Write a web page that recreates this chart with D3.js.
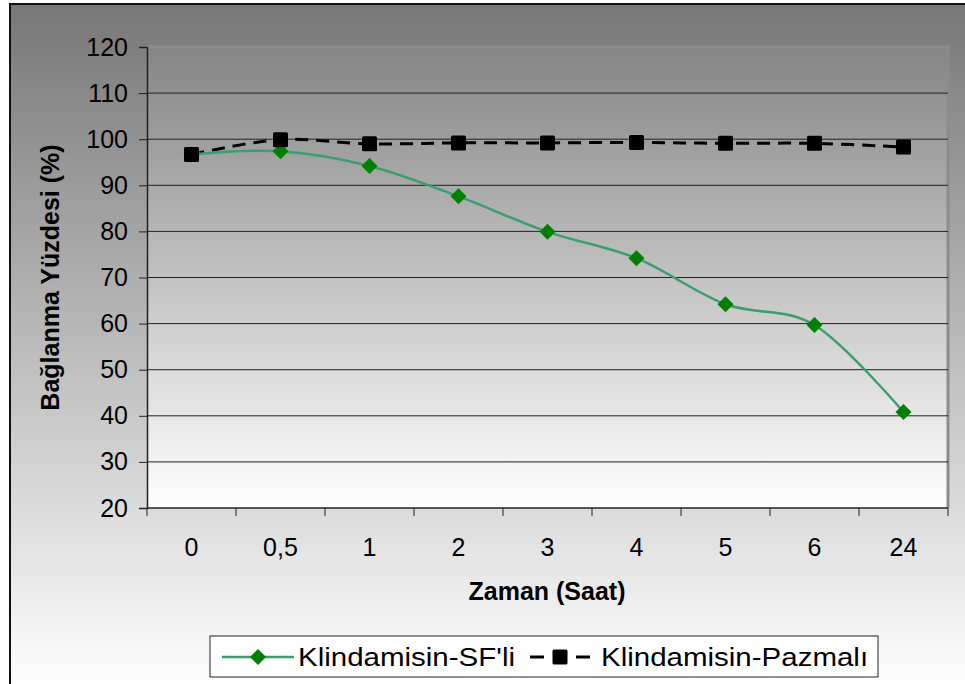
<!DOCTYPE html>
<html>
<head>
<meta charset="utf-8">
<script src="https://cdn.jsdelivr.net/npm/d3@7"></script>
<style>
  body { margin: 0; background: #fff; }
  text { font-family: "Liberation Sans", Arial, sans-serif; }
</style>
</head>
<body>
<div id="chart"></div>
<script>
// data
const categories = ['0', '0,5', '1', '2', '3', '4', '5', '6', '24'];
const sfValues = [96.7, 97.4, 94.2, 87.6, 79.9, 74.2, 64.2, 59.7, 40.8];
const pazValues = [96.7, 99.9, 99.0, 99.2, 99.2, 99.3, 99.1, 99.1, 98.3];
const yTicks = [20, 30, 40, 50, 60, 70, 80, 90, 100, 110, 120];
const seriesNames = ["Klindamisin-SF'li", 'Klindamisin-Pazmalı'];

const W = 965, H = 684;
const margin = {top: 47, right: 17, bottom: 176, left: 147};
const width = W - margin.left - margin.right;
const height = H - margin.top - margin.bottom;
const fontSize = 25;

const svg = d3.select('#chart').append('svg')
  .attr('width', W)
  .attr('height', H);

const defs = svg.append('defs');
const outerGrad = defs.append('linearGradient')
  .attr('id', 'outerGrad').attr('x1', 0).attr('y1', 0).attr('x2', 0).attr('y2', 1);
outerGrad.append('stop').attr('offset', '0%').attr('stop-color', '#777777');
outerGrad.append('stop').attr('offset', '100%').attr('stop-color', '#ffffff');

const plotGrad = defs.append('linearGradient')
  .attr('id', 'plotGrad').attr('x1', 0).attr('y1', 0).attr('x2', 0).attr('y2', 1);
plotGrad.append('stop').attr('offset', '0%').attr('stop-color', '#858585');
plotGrad.append('stop').attr('offset', '100%').attr('stop-color', '#ffffff');

// chart area + frame
svg.append('rect')
  .attr('x', 10).attr('y', 4).attr('width', W).attr('height', H)
  .attr('fill', 'url(#outerGrad)')
  .attr('stroke', '#111').attr('stroke-width', 2);

const g = svg.append('g').attr('transform', `translate(${margin.left},${margin.top})`);

g.append('rect')
  .attr('width', width).attr('height', height)
  .attr('fill', 'url(#plotGrad)');

// plot border, light on top and right
g.append('path')
  .attr('d', `M0,0H${width}V${height}`)
  .attr('fill', 'none')
  .attr('stroke', '#8c8c8c')
  .attr('stroke-width', 3);

const x = d3.scaleBand().domain(categories).range([0, width]);
const y = d3.scaleLinear().domain([20, 120]).range([height, 0]);
const cx = d => x(d) + x.bandwidth() / 2;

// grid lines
g.append('g')
  .selectAll('line')
  .data(yTicks.slice(1, -1))
  .join('line')
  .attr('x1', 0).attr('x2', width)
  .attr('y1', d => y(d)).attr('y2', d => y(d))
  .attr('stroke', '#222').attr('stroke-width', 1);

// y axis
const yAxis = g.append('g')
  .call(d3.axisLeft(y).tickValues(yTicks).tickSize(8).tickPadding(11));
yAxis.select('.domain').attr('stroke', '#222').attr('stroke-width', 1.5);
yAxis.selectAll('.tick line').attr('stroke', '#222');
yAxis.selectAll('text').attr('font-size', fontSize).attr('fill', '#000')
  .attr('font-family', '"Liberation Sans", Arial, sans-serif');

// x axis: ticks at category boundaries, labels centered
const xAxis = g.append('g').attr('transform', `translate(0,${height})`);
xAxis.append('line')
  .attr('x1', 0).attr('x2', width)
  .attr('stroke', '#222').attr('stroke-width', 1.5);
xAxis.selectAll('.xt')
  .data(categories.concat(['end']))
  .join('line')
  .attr('class', 'xt')
  .attr('x1', (d, i) => i * x.bandwidth()).attr('x2', (d, i) => i * x.bandwidth())
  .attr('y1', 0).attr('y2', 8)
  .attr('stroke', '#222');
xAxis.selectAll('.xl')
  .data(categories)
  .join('text')
  .attr('class', 'xl')
  .attr('x', d => cx(d))
  .attr('y', 48)
  .attr('text-anchor', 'middle')
  .attr('font-size', fontSize)
  .text(d => d);

// axis titles
svg.append('text')
  .attr('x', 547)
  .attr('y', 600)
  .attr('text-anchor', 'middle')
  .attr('font-size', fontSize).attr('font-weight', 'bold')
  .text('Zaman (Saat)');

svg.append('text')
  .attr('transform', `translate(59,${margin.top + height / 2}) rotate(-90)`)
  .attr('text-anchor', 'middle')
  .attr('font-size', fontSize).attr('font-weight', 'bold')
  .text('Bağlanma Yüzdesi (%)');

const line = d3.line()
  .x((d, i) => cx(categories[i]))
  .y(d => y(d))
  .curve(d3.curveCardinal.tension(0));

// Pazmalı series (dashed black, squares)
g.append('path')
  .datum(pazValues)
  .attr('d', line)
  .attr('fill', 'none')
  .attr('stroke', '#000')
  .attr('stroke-width', 3)
  .attr('stroke-dasharray', '13,8');

// SF'li series (green, diamonds)
g.append('path')
  .datum(sfValues)
  .attr('d', line)
  .attr('fill', 'none')
  .attr('stroke', '#3a9e70')
  .attr('stroke-width', 2.5);

const diamond = d3.symbol().type(d3.symbolSquare).size(128);
g.selectAll('.dia')
  .data(sfValues)
  .join('path')
  .attr('class', 'dia')
  .attr('d', diamond)
  .attr('transform', (d, i) => `translate(${cx(categories[i])},${y(d)}) rotate(45)`)
  .attr('fill', '#008000');

g.selectAll('.sq')
  .data(pazValues)
  .join('rect')
  .attr('class', 'sq')
  .attr('x', (d, i) => cx(categories[i]) - 7.5)
  .attr('y', d => y(d) - 7.5)
  .attr('width', 15).attr('height', 15)
  .attr('rx', 1.5)
  .attr('fill', '#000');

// legend (text in the reference is a bit wider than Liberation Sans)
const legend = svg.append('g').attr('transform', 'translate(210,636)');
legend.append('rect')
  .attr('width', 668).attr('height', 41)
  .attr('fill', '#fff').attr('stroke', '#222').attr('stroke-width', 1);

legend.append('line')
  .attr('x1', 12).attr('x2', 84).attr('y1', 21).attr('y2', 21)
  .attr('stroke', '#3a9e70').attr('stroke-width', 2.5);
legend.append('path')
  .attr('d', diamond)
  .attr('transform', 'translate(48,21) rotate(45)')
  .attr('fill', '#008000');
legend.append('text')
  .attr('transform', 'translate(88,30) scale(1.18,1)')
  .attr('font-size', fontSize)
  .text(seriesNames[0]);

legend.append('line')
  .attr('x1', 320).attr('x2', 380).attr('y1', 21).attr('y2', 21)
  .attr('stroke', '#000').attr('stroke-width', 3)
  .attr('stroke-dasharray', '14,32,14');
legend.append('rect')
  .attr('x', 342.5).attr('y', 13.5).attr('width', 15).attr('height', 15)
  .attr('rx', 1.5).attr('fill', '#000');
legend.append('text')
  .attr('transform', 'translate(391,30) scale(1.18,1)')
  .attr('font-size', fontSize)
  .text(seriesNames[1]);
</script>
</body>
</html>
